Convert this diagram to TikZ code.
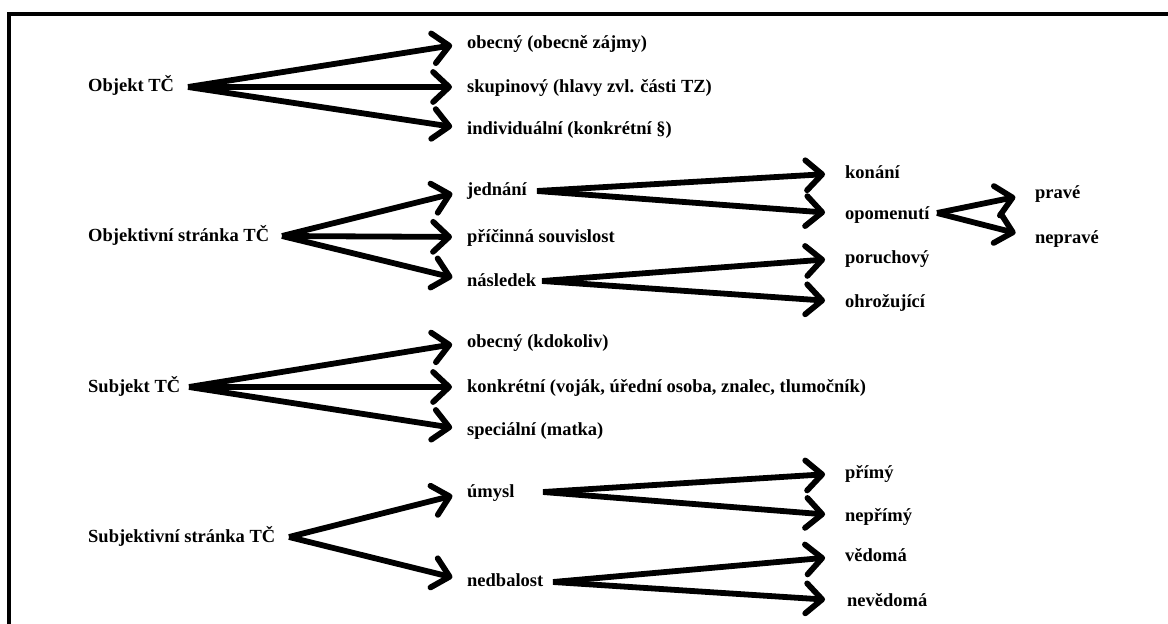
\documentclass[tikz,border=0pt]{standalone}
\usepackage{fontspec}
\setmainfont{Liberation Serif}
\usetikzlibrary{positioning,arrows.meta}

\tikzset{
  uzel/.style={anchor=west,inner sep=0pt,text height=11pt,text depth=0pt,
    font=\fontsize{18.5}{22}\selectfont\bfseries},
  sipka/.style={line width=5.8pt,line cap=butt,
    -{Straight Barb[length=16pt,width=30pt,round]},shorten >=#1},
  sipka/.default=15pt
}

\begin{document}
\begin{tikzpicture}[x=1pt,y=-1pt]
  \useasboundingbox (0,0) rectangle (1168,624);
  \clip (0,0) rectangle (1168,624);
  % rám
  \draw[line width=4.5pt] (9,640) -- (9,14) -- (1180,14);
  % Objekt TČ
  \node[uzel] (objekt) at (88,86) {Objekt TČ};
  \coordinate (o-objekt) at (188,87);
  \node[uzel] (obecny) at (467,43) {obecný (obecně zájmy)};
  \node[uzel] (skupinovy) at (467,87) {skupinový (hlavy zvl. části TZ)};
  \node[uzel] (individualni) at (467,129) {individuální (konkrétní §)};
  \draw[sipka] (o-objekt) -- (obecny.west);
  \draw[sipka] (o-objekt) -- (skupinovy.west);
  \draw[sipka] (o-objekt) -- (individualni.west);
  % Objektivní stránka TČ
  \node[uzel] (objstr) at (88,236) {Objektivní stránka TČ};
  \coordinate (o-objstr) at (282,236);
  \node[uzel] (jednani) at (467,190) {jednání};
  \node[uzel] (pricinna) at (467,237) {příčinná souvislost};
  \node[uzel] (nasledek) at (467,281) {následek};
  \draw[sipka] (o-objstr) -- (jednani.west);
  \draw[sipka] (o-objstr) -- (pricinna.west);
  \draw[sipka] (o-objstr) -- (nasledek.west);
  % jednání
  \coordinate (o-jednani) at (537,191);
  \node[uzel] (konani) at (845,173) {konání};
  \node[uzel] (opomenuti) at (845,214) {opomenutí};
  \draw[sipka=20pt] (o-jednani) -- (konani.west);
  \draw[sipka=20pt] (o-jednani) -- (opomenuti.west);
  % opomenutí
  \coordinate (o-opomenuti) at (937,213);
  \node[uzel] (prave) at (1035,193) {pravé};
  \node[uzel] (neprave) at (1035,238) {nepravé};
  \draw[sipka=20pt] (o-opomenuti) -- (prave.west);
  \draw[sipka=20pt] (o-opomenuti) -- (neprave.west);
  % následek
  \coordinate (o-nasledek) at (542,281);
  \node[uzel] (poruchovy) at (845,258) {poruchový};
  \node[uzel] (ohrozujici) at (845,302) {ohrožující};
  \draw[sipka=20pt] (o-nasledek) -- (poruchovy.west);
  \draw[sipka=20pt] (o-nasledek) -- (ohrozujici.west);
  % Subjekt TČ
  \node[uzel] (subjekt) at (88,387) {Subjekt TČ};
  \coordinate (o-subjekt) at (189,387);
  \node[uzel] (obecny2) at (467,342) {obecný (kdokoliv)};
  \node[uzel] (konkretni) at (467,387) {konkrétní (voják, úřední osoba, znalec, tlumočník)};
  \node[uzel] (specialni) at (467,430) {speciální (matka)};
  \draw[sipka] (o-subjekt) -- (obecny2.west);
  \draw[sipka] (o-subjekt) -- (konkretni.west);
  \draw[sipka] (o-subjekt) -- (specialni.west);
  % Subjektivní stránka TČ
  \node[uzel] (subjstr) at (88,537) {Subjektivní stránka TČ};
  \coordinate (o-subjstr) at (289,537);
  \node[uzel] (umysl) at (467,492) {úmysl};
  \node[uzel] (nedbalost) at (467,581) {nedbalost};
  \draw[sipka] (o-subjstr) -- (umysl.west);
  \draw[sipka] (o-subjstr) -- (nedbalost.west);
  % úmysl
  \coordinate (o-umysl) at (543,492);
  \node[uzel] (primy) at (845,473) {přímý};
  \node[uzel] (neprimy) at (845,516) {nepřímý};
  \draw[sipka=20pt] (o-umysl) -- (primy.west);
  \draw[sipka=20pt] (o-umysl) -- (neprimy.west);
  % nedbalost
  \coordinate (o-nedbalost) at (553,582);
  \node[uzel] (vedoma) at (845,556) {vědomá};
  \node[uzel] (nevedoma) at (847,601) {nevědomá};
  \draw[sipka=20pt] (o-nedbalost) -- (vedoma.west);
  \draw[sipka=22pt] (o-nedbalost) -- (nevedoma.west);
\end{tikzpicture}
\end{document}
